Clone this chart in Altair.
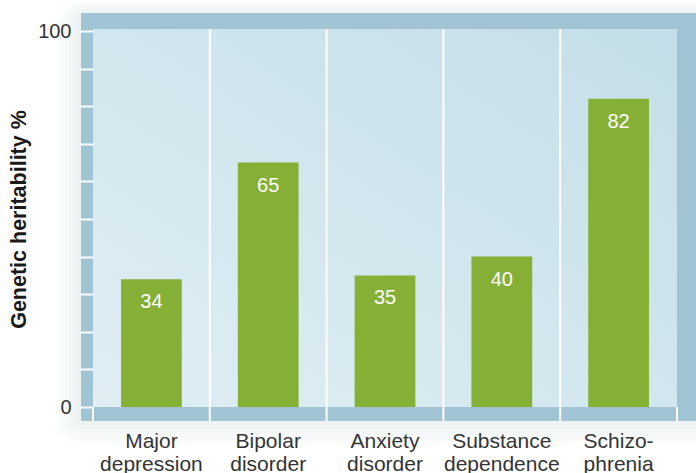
import altair as alt
import pandas as pd

categories = ["Major\ndepression", "Bipolar\ndisorder", "Anxiety\ndisorder",
              "Substance\ndependence", "Schizo-\nphrenia"]
heritability = [34, 65, 35, 40, 82]
y_ticks = list(range(0, 101, 10))

df = pd.DataFrame({"cat": categories, "val": heritability})
one = alt.Data(values=[{"k": 0}])

FONT = "Liberation Sans"
FRAME = "#a0c4d4"
GREEN = "#85b035"

xscale = alt.Scale(type="band", domain=categories, paddingInner=0, paddingOuter=0)
yscale = alt.Scale(domain=[0, 100], nice=False, zero=True)

xaxis = alt.Axis(title=None, labelAngle=0, domain=False, ticks=False, grid=False,
                 bandPosition=0.5,
                 labelExpr="split(datum.label, '\\n')",
                 labelFont=FONT, labelFontSize=21, labelColor="#333333",
                 labelPadding=23, labelLineHeight=23, labelBaseline="top")
yaxis = alt.Axis(title="Genetic heritability %", values=y_ticks, tickCount=11,
                 domain=False, grid=False,
                 tickColor="white", tickSize=13, tickWidth=2,
                 labelExpr="datum.value == 0 || datum.value == 100 ? datum.label : ''",
                 labelFont=FONT, labelFontSize=20, labelColor="#333333",
                 labelPadding=9, labelOverlap=False,
                 titleFont=FONT, titleFontSize=21.5, titleFontWeight="bold",
                 titleColor="#1a1a1a", titleX=-74, titleBaseline="middle",
                 zindex=1)

xenc = alt.X("cat:N", scale=xscale, sort=categories, axis=xaxis)
yenc = alt.Y("val:Q", scale=yscale, axis=yaxis)

base = alt.Chart(df)

# soft shadow around the frame
shadows = []
for e in [24, 20, 16, 12, 8, 4]:
    shadows.append(
        alt.Chart(one).mark_rect(color="#7fa9bf", opacity=0.022, cornerRadius=e).encode(
            x=alt.value(-12 - e), x2=alt.value(603 + e),
            y=alt.value(-18 - int(e * 0.5)), y2=alt.value(390 + e),
        )
    )

frame = alt.Chart(one).mark_rect(color=FRAME).encode(
    x=alt.value(-12), x2=alt.value(603), y=alt.value(-18), y2=alt.value(390)
)

inner = alt.Chart(one).mark_rect(
    color=alt.Gradient(
        gradient="linear",
        stops=[alt.GradientStop(color="#e0eef4", offset=0),
               alt.GradientStop(color="#c3dee8", offset=1)],
        x1=0, y1=1, x2=1, y2=0,
    )
).encode(x=alt.value(0), x2=alt.value(584), y=alt.value(-2), y2=alt.value(376))

grid = alt.Chart(pd.DataFrame({"cat": categories[1:]})).mark_rule(
    color="white", strokeWidth=2
).encode(
    x=alt.X("cat:N", bandPosition=0, scale=xscale, sort=categories, axis=xaxis),
    y=alt.value(-2), y2=alt.value(390),
)

edge_l = alt.Chart(pd.DataFrame({"cat": categories[:1]})).mark_rule(
    color="white", strokeWidth=2
).encode(
    x=alt.X("cat:N", bandPosition=0, scale=xscale, sort=categories, axis=xaxis),
    y=alt.value(376), y2=alt.value(390),
)
edge_r = alt.Chart(pd.DataFrame({"cat": categories[-1:]})).mark_rule(
    color="white", strokeWidth=2
).encode(
    x=alt.X("cat:N", bandPosition=1, scale=xscale, sort=categories, axis=xaxis),
    y=alt.value(376), y2=alt.value(390),
)

bars = base.mark_bar(color=GREEN, width={"band": 0.52}).encode(x=xenc, y=yenc)

labels = base.mark_text(color="white", font=FONT, fontSize=20, baseline="middle", dy=23).encode(
    x=xenc, y=yenc, text=alt.Text("val:Q"),
)

chart = alt.layer(*shadows, frame, inner, grid, edge_l, edge_r, bars, labels).properties(
    width=584, height=376,
    autosize=alt.AutoSizeParams(type="none"),
    padding={"left": 93, "top": 31, "right": 19, "bottom": 66},
    background="white",
).configure_view(stroke=None)

chart.save("out.html", embed_options={"renderer": "svg", "actions": False})
